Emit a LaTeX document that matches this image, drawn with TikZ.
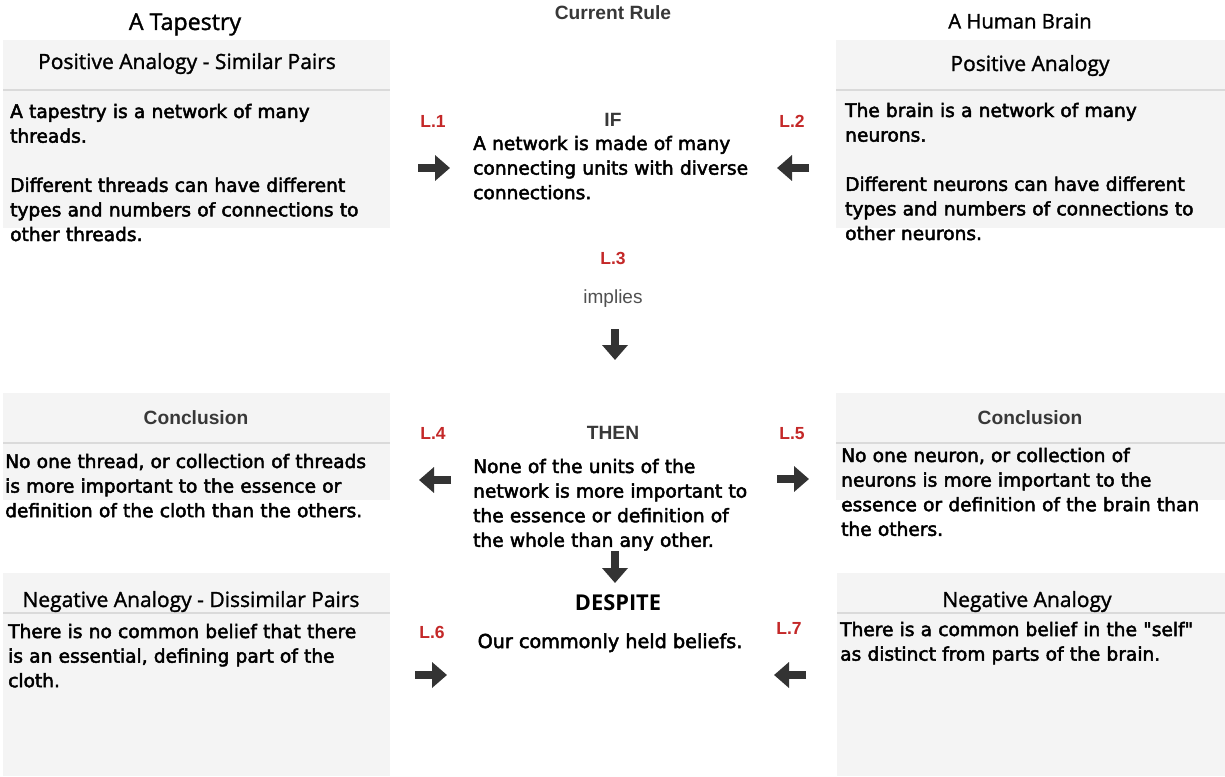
\documentclass[tikz,border=0pt]{standalone}
\usepackage{fontspec}
\usetikzlibrary{arrows.meta}
\newfontfamily\bodyf{DejaVu Sans}[UprightFeatures={FakeBold=2.6}]
\newfontfamily\headf{Open Sans}[UprightFeatures={FakeBold=1.4}]
\newfontfamily\labf{Liberation Sans}
\definecolor{boxfill}{RGB}{244,244,244}
\definecolor{sepgray}{RGB}{218,218,218}
\definecolor{arrowgray}{RGB}{51,51,51}
\definecolor{labred}{RGB}{196,40,40}
\definecolor{headgray}{RGB}{56,56,56}
\definecolor{impgray}{RGB}{80,80,80}
\tikzset{
  panel/.style={fill=boxfill, draw=none},
  sepline/.style={draw=sepgray, line width=2pt},
  bodytext/.style={font=\bodyf\fontsize{18.6}{24.6}\selectfont, anchor=base west, inner sep=0pt, align=left, text width=420pt},
  centertext/.style={font=\bodyf\fontsize{19.2}{24.6}\selectfont, anchor=base, inner sep=0pt},
  titletext/.style={font=\headf\fontsize{21}{24}\selectfont, anchor=base, inner sep=0pt},
  headtext/.style={font=\headf\fontsize{21}{24}\selectfont, anchor=base, inner sep=0pt},
  grayhead/.style={font=\labf\bfseries\fontsize{19.2}{22}\selectfont, text=headgray, anchor=base, inner sep=0pt},
  despitetext/.style={font=\headf\bfseries\fontsize{21.8}{24}\selectfont, anchor=base, inner sep=0pt},
  impliestext/.style={font=\labf\fontsize{19}{22}\selectfont, text=impgray, anchor=base, inner sep=0pt},
  lablabel/.style={font=\labf\bfseries\fontsize{17.5}{20}\selectfont, text=labred, anchor=base, inner sep=0pt},
  blockarrow/.style={draw=arrowgray, line width=8pt, -{Triangle[length=15pt,width=25pt]}}
}
\begin{document}
\begin{tikzpicture}[x=1pt,y=-1pt]
\useasboundingbox (0,0) rectangle (1225,776);
\fill[white] (0,0) rectangle (1225,776);

% panels left
\fill[panel] (3,40) rectangle (390,228);
\draw[sepline] (3,90) -- (390,90);
\fill[panel] (3,393) rectangle (390,500);
\draw[sepline] (3,443) -- (390,443);
\fill[panel] (3,573) rectangle (390,776);
\draw[sepline] (3,613) -- (390,613);
% panels right
\fill[panel] (836,40) rectangle (1225,228);
\draw[sepline] (836,90) -- (1225,90);
\fill[panel] (836,393) rectangle (1225,500);
\draw[sepline] (836,443) -- (1225,443);
\fill[panel] (837,573) rectangle (1225,776);
\draw[sepline] (837,613) -- (1225,613);

% titles
\node[titletext, font=\headf\fontsize{23.2}{26}\selectfont] (tleft) at (185,30) {A Tapestry};
\node[titletext, font=\headf\fontsize{20.3}{24}\selectfont] (tright) at (1020,28.5) {A Human Brain};
\node[grayhead] (trule) at (613,19.5) {Current Rule};

% left column
\node[headtext] (h1) at (187,69) {Positive Analogy - Similar Pairs};
\node[bodytext] (b1) at (10,118) {A tapestry is a network of many\\threads.\\[24.6pt]Different threads can have different\\types and numbers of connections to\\other threads.};
\node[grayhead] (h2) at (196,424.5) {Conclusion};
\node[bodytext] (b2) at (5,468) {No one thread, or collection of threads\\is more important to the essence or\\definition of the cloth than the others.};
\node[headtext] (h3) at (191,607) {Negative Analogy - Dissimilar Pairs};
\node[bodytext] (b3) at (8,638) {There is no common belief that there\\is an essential, defining part of the\\cloth.};

% right column
\node[headtext] (h4) at (1030,71) {Positive Analogy};
\node[bodytext] (b4) at (845,117) {The brain is a network of many\\neurons.\\[24.6pt]Different neurons can have different\\types and numbers of connections to\\other neurons.};
\node[grayhead] (h5) at (1030,424.5) {Conclusion};
\node[bodytext] (b5) at (841,462) {No one neuron, or collection of\\neurons is more important to the\\essence or definition of the brain than\\the others.};
\node[headtext] (h6) at (1027,607) {Negative Analogy};
\node[bodytext] (b6) at (840,636) {There is a common belief in the "self"\\as distinct from parts of the brain.};

% centre
\node[grayhead] (cif) at (613,126.5) {IF};
\node[bodytext] (cb1) at (473,150) {A network is made of many\\connecting units with diverse\\connections.};
\node[impliestext] (cimp) at (613,303) {implies};
\node[grayhead] (cthen) at (613,439.5) {THEN};
\node[bodytext] (cb2) at (473,473) {None of the units of the\\network is more important to\\the essence or definition of\\the whole than any other.};
\node[despitetext] (cdes) at (618,610) {DESPITE};
\node[centertext] (cb3) at (610,648) {Our commonly held beliefs.};

% labels
\node[lablabel] (l1) at (433,127) {L.1};
\node[lablabel] (l2) at (792,127) {L.2};
\node[lablabel] (l3) at (613,264) {L.3};
\node[lablabel] (l4) at (433,439) {L.4};
\node[lablabel] (l5) at (792,439) {L.5};
\node[lablabel] (l6) at (432,638) {L.6};
\node[lablabel] (l7) at (789,634) {L.7};

% arrows
\coordinate (a1s) at (418,168); \coordinate (a1e) at (450,168);
\coordinate (a2s) at (809,168); \coordinate (a2e) at (777,168);
\coordinate (a3s) at (615,329); \coordinate (a3e) at (615,360);
\coordinate (a4s) at (451,480); \coordinate (a4e) at (419,480);
\coordinate (a5s) at (777,479); \coordinate (a5e) at (809,479);
\coordinate (a6s) at (615,551); \coordinate (a6e) at (615,583);
\coordinate (a7s) at (415,675); \coordinate (a7e) at (447,675);
\coordinate (a8s) at (806,675); \coordinate (a8e) at (774,675);
\draw[blockarrow] (a1s) -- (a1e);
\draw[blockarrow] (a2s) -- (a2e);
\draw[blockarrow] (a3s) -- (a3e);
\draw[blockarrow] (a4s) -- (a4e);
\draw[blockarrow] (a5s) -- (a5e);
\draw[blockarrow] (a6s) -- (a6e);
\draw[blockarrow] (a7s) -- (a7e);
\draw[blockarrow] (a8s) -- (a8e);
\end{tikzpicture}
\end{document}
